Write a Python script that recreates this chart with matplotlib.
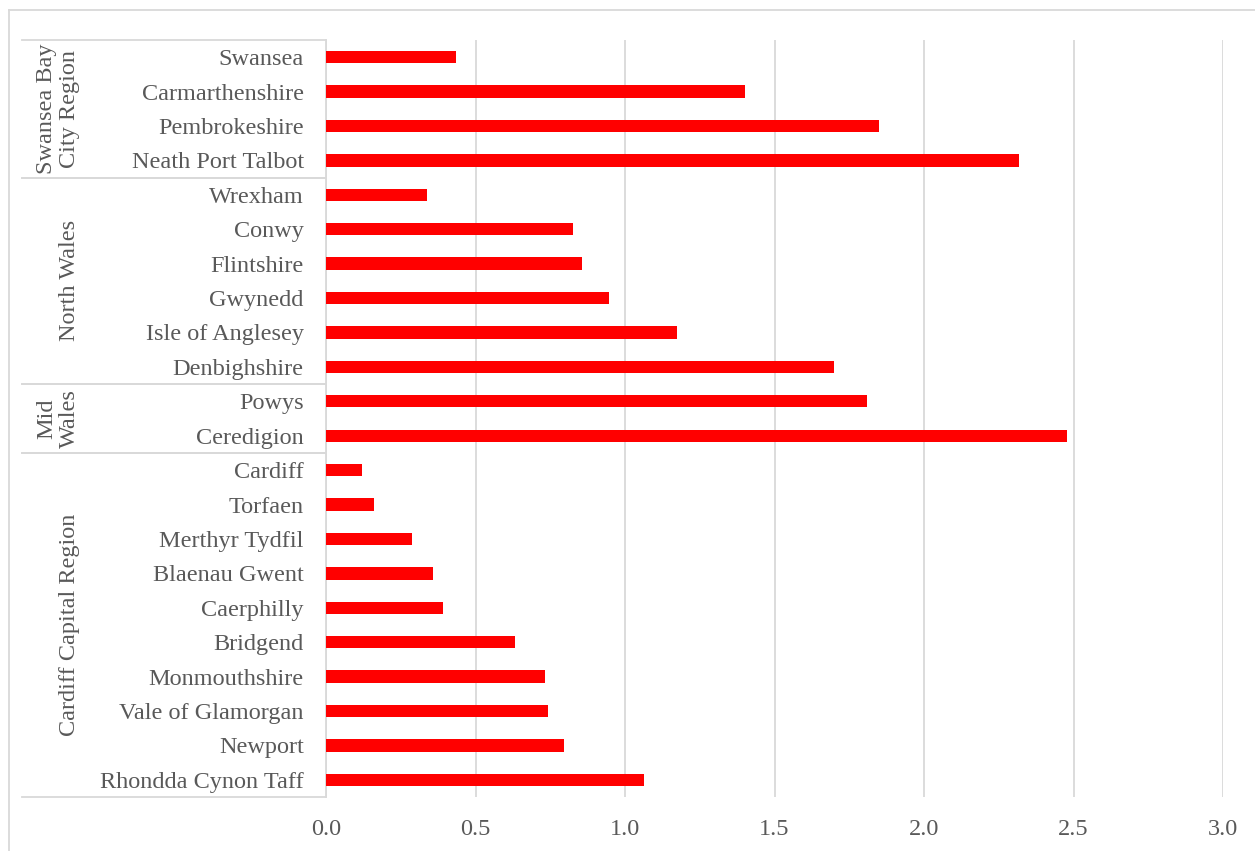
import matplotlib.pyplot as plt
import matplotlib.transforms as mtransforms
from matplotlib.lines import Line2D

plt.rcParams['font.family'] = ['Liberation Serif', 'DejaVu Serif']

# local authorities, top to bottom, with their regional group
regioes = ['Swansea Bay\nCity Region', 'North Wales', 'Mid\nWales', 'Cardiff Capital Region']
tamanho_regioes = [4, 6, 2, 10]

autoridades = [
    'Swansea', 'Carmarthenshire', 'Pembrokeshire', 'Neath Port Talbot',
    'Wrexham', 'Conwy', 'Flintshire', 'Gwynedd', 'Isle of Anglesey', 'Denbighshire',
    'Powys', 'Ceredigion',
    'Cardiff', 'Torfaen', 'Merthyr Tydfil', 'Blaenau Gwent', 'Caerphilly',
    'Bridgend', 'Monmouthshire', 'Vale of Glamorgan', 'Newport', 'Rhondda Cynon Taff',
]
valores = [
    0.435, 1.403, 1.850, 2.319,
    0.339, 0.827, 0.857, 0.945, 1.175, 1.700,
    1.810, 2.477,
    0.119, 0.162, 0.288, 0.358, 0.391,
    0.631, 0.731, 0.741, 0.795, 1.064,
]
ticks_x = [0.0, 0.5, 1.0, 1.5, 2.0, 2.5, 3.0]

cinza = '#d9d9d9'
cor_texto = '#595959'

fig = plt.figure(figsize=(12.55, 8.51), dpi=100)
ax = fig.add_axes([326 / 1255, 1 - 797 / 851, 897 / 1255, 757 / 851])

n = len(autoridades)
posicoes = list(range(n))
ax.barh(posicoes, valores, height=0.36, color='#ff0000', zorder=3)

ax.set_xlim(0, 3)
ax.set_ylim(n - 0.5, -0.5)
ax.set_xticks(ticks_x)
ax.set_xticklabels([f'{t:.1f}' for t in ticks_x])
ax.set_yticks(posicoes)
ax.set_yticklabels(autoridades)
ax.tick_params(axis='both', length=0, labelsize=17.5, labelcolor=cor_texto)
ax.tick_params(axis='y', pad=16)
ax.tick_params(axis='x', pad=16)

ax.grid(axis='x', color=cinza, linewidth=1.3, zorder=0)
for lado in ['top', 'right', 'bottom']:
    ax.spines[lado].set_visible(False)
ax.spines['left'].set_color(cinza)
ax.spines['left'].set_linewidth(1.3)

# separators and labels for each region on the left
trans = mtransforms.blended_transform_factory(ax.transAxes, ax.transData)
x_linha = (22 - 326) / 897
x_texto = (80 - 326) / 897
inicio = 0
for regiao, tam in zip(regioes, tamanho_regioes):
    topo = inicio - 0.5
    base = inicio + tam - 0.5
    for y in (topo, base):
        ax.add_line(Line2D([x_linha, 0], [y, y], transform=trans, color=cinza,
                           linewidth=1.3, clip_on=False))
    ax.text(x_texto, (topo + base) / 2, regiao, transform=trans, rotation=90,
            ha='right', va='center', multialignment='center',
            fontsize=17.5, color=cor_texto, linespacing=1.1)
    inicio += tam

# outer chart frame
fig.add_artist(Line2D([9 / 1255, 9 / 1255], [0, 1 - 10 / 851], color=cinza, linewidth=1.3))
fig.add_artist(Line2D([9 / 1255, 1], [1 - 10 / 851, 1 - 10 / 851], color=cinza, linewidth=1.3))

plt.savefig('out.png', dpi=100)
